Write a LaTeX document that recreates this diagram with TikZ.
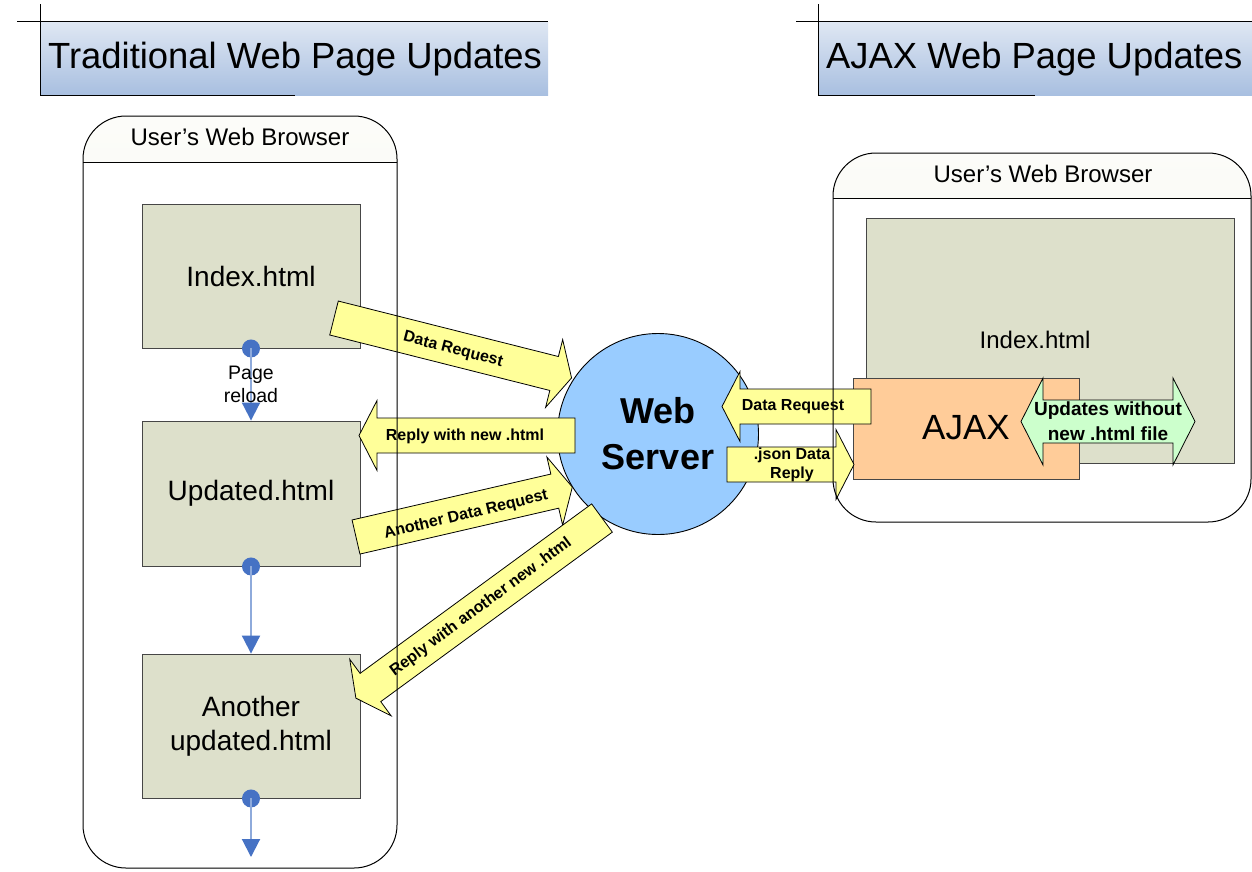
\documentclass[tikz,border=0pt]{standalone}
\usepackage{fontspec}
\setmainfont{Liberation Sans}
\usetikzlibrary{arrows.meta}

\definecolor{titletop}{RGB}{223,231,243}
\definecolor{titlebot}{RGB}{168,191,224}
\definecolor{headtop}{RGB}{252,252,249}
\definecolor{headbot}{RGB}{238,240,228}
\definecolor{pagefill}{RGB}{221,224,203}
\definecolor{pageline}{RGB}{70,70,70}
\definecolor{ajaxfill}{RGB}{255,204,153}
\definecolor{serverblue}{RGB}{153,204,255}
\definecolor{noteyellow}{RGB}{255,255,153}
\definecolor{notegreen}{RGB}{204,255,204}
\definecolor{dotblue}{RGB}{70,114,196}
\definecolor{flowline}{RGB}{142,170,219}

\newcommand\fs[2]{\fontsize{#1}{#2}\selectfont}

% block arrow: [style]{name}{tail point}{angle}{length}
\newcommand\blockarrow[5][]{%
  \begin{scope}[shift={#3}, rotate=#4]
    \filldraw[blockarr, #1] (0,-17.5) -- ({#5-18},-17.5) -- ({#5-18},-35)
      -- (#5,0) -- ({#5-18},35) -- ({#5-18},17.5) -- (0,17.5) -- cycle;
    \coordinate (#2-tail) at (0,0);
    \coordinate (#2-tip) at (#5,0);
  \end{scope}}

\tikzset{
  titlebox/.style={top color=titletop, bottom color=titlebot, draw=none},
  titletext/.style={anchor=base west, inner sep=0pt, font=\fs{36.4}{44}},
  headtext/.style={anchor=base, inner sep=0pt, font=\fs{24}{29}},
  page/.style={draw=pageline, line width=0.9pt, fill=pagefill, minimum width=218pt,
    inner sep=0pt, align=center, font=\fs{28}{34}},
  blockarr/.style={fill=noteyellow, draw=black, line width=0.8pt, line join=miter},
  arrtext/.style={inner sep=0pt, align=center, font=\bfseries\fs{16}{19}},
  flow/.style={draw=flowline, line width=2pt,
    -{Triangle[length=18pt,width=18pt,color=dotblue]}},
  browserline/.style={draw=black, line width=1pt, rounded corners=43pt},
}

\begin{document}
\begin{tikzpicture}[x=1pt,y=-1pt]
\useasboundingbox (0,0) rectangle (1252,871);

% ---- headings ----
\fill[titlebox] (40,22) rectangle (548,95);
\draw[line width=1pt] (17,21) -- (548,21) (40,4) -- (40,95) -- (295,95);
\node[titletext] (ttrad) at (48,68) {Traditional Web Page Updates};

\fill[titlebox] (818,22) rectangle (1252,95);
\draw[line width=1pt] (796,21) -- (1252,21) (818,4) -- (818,95) -- (1035,95);
\node[titletext] (tajax) at (826,68) {AJAX Web Page Updates};

% ---- browser frames: fills ----
\fill[white, rounded corners=43pt] (83,116) rectangle (397,868);
\begin{scope}
  \clip (83,116) rectangle (397,162);
  \fill[top color=headtop, bottom color=headbot, rounded corners=43pt] (83,116) rectangle (397,868);
\end{scope}
\draw[line width=1pt] (83,162) -- (397,162);
\node[headtext] (lhead) at (240,145) {User’s Web Browser};

\fill[white, rounded corners=43pt] (833,153) rectangle (1251,522);
\begin{scope}
  \clip (833,153) rectangle (1251,198);
  \fill[top color=headtop, bottom color=headbot, rounded corners=43pt] (833,153) rectangle (1251,522);
\end{scope}
\draw[line width=1pt] (833,198) -- (1251,198);
\node[headtext] (rhead) at (1043,182) {User’s Web Browser};

% ---- pages ----
\node[page, minimum height=144pt] (index) at (251,276) {Index.html};
\node[page, minimum height=145pt] (updated) at (251,493.5) {Updated.html};
\node[page, minimum height=144pt] (another) at (251,726) {Another\\updated.html};

\node[page, minimum width=368pt, minimum height=245pt, font=\fs{24}{29}] (rindex) at (1050,340.5) {};
\node[font=\fs{24}{29}, inner sep=0pt] (rindextext) at (1035,340) {Index.html};
\node[draw=pageline, line width=0.9pt, fill=ajaxfill, minimum width=226pt, minimum height=101pt,
  inner sep=0pt] (ajax) at (966,428.5) {};
\node[font=\fs{35}{42}, inner sep=0pt] (ajaxtext) at (966,428) {AJAX};

% ---- page reload flow ----
\fill[dotblue] (index.south) circle (9pt);
\draw[flow] (index.south) -- (updated.north);
\node[font=\fs{19.5}{23}, align=center, inner sep=0pt] (reload) at (251,384) {Page\\reload};
\fill[dotblue] (updated.south) circle (9pt);
\draw[flow] (updated.south) -- (another.north);
\coordinate (beyond) at (251,857);
\fill[dotblue] (another.south) circle (9pt);
\draw[flow] (another.south) -- (beyond);

% ---- server ----
\node[circle, draw=black, line width=0.9pt, fill=serverblue, minimum size=201pt, inner sep=0pt,
  align=center, font=\bfseries\fs{36}{46}] (server) at (658,434) {Web\\Server};

% ---- traditional requests and replies ----
\blockarrow{req}{(334,318)}{-14.15}{245}
\node[arrtext, rotate=-14.5] (treq) at (453,350) {Data Request};
\blockarrow{rep}{(575,435.5)}{180}{216}
\node[arrtext] (trep) at (465,436) {Reply with new .html};
\blockarrow{req2}{(356,537)}{13}{222}
\node[arrtext, rotate=13.5] (treq2) at (466,515) {Another Data Request};
\blockarrow{rep2}{(602,518)}{216.2}{305}
\node[arrtext, rotate=36.5] (trep2) at (481,607) {Reply with another new .html};

% ---- ajax requests and replies ----
\blockarrow{areq}{(871,406.5)}{180}{149}
\node[arrtext] (tareq) at (793,407) {Data Request};
\blockarrow{arep}{(727,464.5)}{0}{127}
\node[arrtext] (tarep) at (792,465) {.json Data\\Reply};

\filldraw[blockarr, fill=notegreen] (1021,421.5) -- (1043,378) -- (1043,400) -- (1173,400)
  -- (1173,378) -- (1195,421.5) -- (1173,465) -- (1173,443) -- (1043,443) -- (1043,465) -- cycle;
\node[arrtext, font=\bfseries\fs{19}{25}] (tupd) at (1108,421) {Updates without\\new .html file};

% ---- browser frames: outlines on top ----
\draw[browserline] (83,116) rectangle (397,868);
\draw[browserline] (833,153) rectangle (1251,522);
\end{tikzpicture}
\end{document}
